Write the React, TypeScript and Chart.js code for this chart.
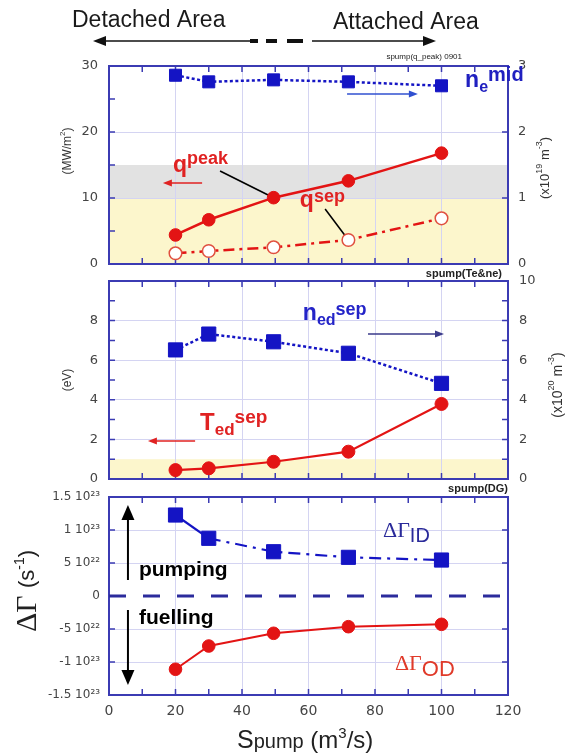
import { useEffect, useRef } from "react";
import { Chart, registerables } from "chart.js";

Chart.register(...registerables);

// ---------------- data ----------------
const pumpSpeed = [20, 30, 49.5, 72, 100];
const neMid = [2.86, 2.76, 2.79, 2.76, 2.7];
const qPeak = [4.4, 6.7, 10.05, 12.6, 16.8];
const qSep = [1.62, 1.97, 2.53, 3.64, 6.92];
const nedSep = [6.52, 7.32, 6.93, 6.35, 4.83];
const tedSep = [0.45, 0.54, 0.87, 1.38, 3.79];
const dGammaID = [1.227e23, 0.874e23, 0.671e23, 0.586e23, 0.545e23];
const dGammaOD = [-1.11e23, -0.758e23, -0.565e23, -0.465e23, -0.429e23];

const xTickLabels = ["0", "20", "40", "60", "80", "100", "120"];
const heatTickLabels = ["0", "10", "20", "30"];
const neTickLabels = ["0", "1", "2", "3"];
const tempTickLabels = ["0", "2", "4", "6", "8", ""];
const nedTickLabels = ["0", "2", "4", "6", "8", "10"];
const gammaTickLabels = ["-1.5 10²³", "-1 10²³", "-5 10²²", "0", "5 10²²", "1 10²³", "1.5 10²³"];

// ---------------- style ----------------
const W = 571;
const H = 756;
const LEFT_W = 109;
const RIGHT_W = 63;
const P1 = { top: 66, bottom: 264 };
const P2 = { top: 281, bottom: 479 };
const P3 = { top: 497, bottom: 695 };
const SANS = "'Liberation Sans', Arial, sans-serif";
const DEJA = "'DejaVu Sans', sans-serif";
const SERIF = "'Liberation Serif', 'Times New Roman', serif";
const FRAME = "#3b3bb3";
const GRID = "#d4d4f2";
const TICK = "#444444";
const RED = "#e31414";
const RED_TXT = "#e02222";
const BLUE = "#1414c4";
const NAVY = "#2a2a9a";
const YELLOW = "#fcf6cc";
const GRAYBAND = "#e2e2e2";

type Part = { t: string; f: string; dy?: number; c?: string };

function rich(ctx: CanvasRenderingContext2D, parts: Part[], x: number, y: number, o: { align?: string; rot?: number; color?: string; baseline?: CanvasTextBaseline } = {}) {
  ctx.save();
  ctx.translate(x, y);
  if (o.rot) ctx.rotate(o.rot);
  let total = 0;
  const widths = parts.map((p) => {
    ctx.font = p.f;
    const w = ctx.measureText(p.t).width;
    total += w;
    return w;
  });
  let cx = o.align === "center" ? -total / 2 : o.align === "right" ? -total : 0;
  ctx.textBaseline = o.baseline || "alphabetic";
  ctx.textAlign = "left";
  parts.forEach((p, i) => {
    ctx.font = p.f;
    ctx.fillStyle = p.c || o.color || "#000";
    ctx.fillText(p.t, cx, p.dy || 0);
    cx += widths[i];
  });
  ctx.restore();
}

function arrow(ctx: CanvasRenderingContext2D, x1: number, y1: number, x2: number, y2: number, color: string, lw: number, hl: number, hw: number) {
  const a = Math.atan2(y2 - y1, x2 - x1);
  const c = Math.cos(a), s = Math.sin(a);
  ctx.save();
  ctx.strokeStyle = color;
  ctx.fillStyle = color;
  ctx.lineWidth = lw;
  ctx.beginPath();
  ctx.moveTo(x1, y1);
  ctx.lineTo(x2 - c * hl * 0.8, y2 - s * hl * 0.8);
  ctx.stroke();
  ctx.beginPath();
  ctx.moveTo(x2, y2);
  ctx.lineTo(x2 - hl * c + hw * s, y2 - hl * s - hw * c);
  ctx.lineTo(x2 - hl * c - hw * s, y2 - hl * s + hw * c);
  ctx.closePath();
  ctx.fill();
  ctx.restore();
}

function seg(ctx: CanvasRenderingContext2D, x1: number, y1: number, x2: number, y2: number, color: string, lw: number) {
  ctx.save();
  ctx.strokeStyle = color;
  ctx.lineWidth = lw;
  ctx.beginPath();
  ctx.moveTo(x1, y1);
  ctx.lineTo(x2, y2);
  ctx.stroke();
  ctx.restore();
}

function frameAndTicks(chart: any, leftId: string, leftVals: number[], rightId: string, rightVals: number[]) {
  const { ctx, chartArea: a } = chart;
  const L = 6;
  ctx.save();
  ctx.strokeStyle = FRAME;
  ctx.lineWidth = 1.5;
  ctx.beginPath();
  const xs = chart.scales.x;
  for (let v = 10; v < 120; v += 10) {
    const p = xs.getPixelForValue(v);
    ctx.moveTo(p, a.top);
    ctx.lineTo(p, a.top + L);
    ctx.moveTo(p, a.bottom);
    ctx.lineTo(p, a.bottom - L);
  }
  leftVals.forEach((v) => {
    const p = chart.scales[leftId].getPixelForValue(v);
    ctx.moveTo(a.left, p);
    ctx.lineTo(a.left + L, p);
  });
  rightVals.forEach((v) => {
    const p = chart.scales[rightId].getPixelForValue(v);
    ctx.moveTo(a.right, p);
    ctx.lineTo(a.right - L, p);
  });
  ctx.stroke();
  ctx.lineWidth = 2;
  ctx.strokeRect(a.left, a.top, a.right - a.left, a.bottom - a.top);
  ctx.restore();
}

const edgeHidden = (min: number, max: number, hideZero = false) => (c: any) => {
  const v = c.tick ? c.tick.value : NaN;
  const eps = Math.abs(max - min) * 1e-6;
  if (Math.abs(v - min) < eps || Math.abs(v - max) < eps || (hideZero && Math.abs(v) < eps)) return "rgba(0,0,0,0)";
  return GRID;
};

const pts = (ys: number[]) => ys.map((y, i) => ({ x: pumpSpeed[i], y }));

function xAxis(show: boolean) {
  return {
    type: "linear",
    position: "bottom",
    min: 0,
    max: 120,
    ticks: {
      display: show,
      stepSize: 20,
      padding: 8,
      color: TICK,
      font: { family: DEJA, size: 14 },
      callback: (v: number) => xTickLabels[Math.round(v / 20)] ?? "",
    },
    grid: { color: edgeHidden(0, 120), lineWidth: 1, drawTicks: false },
    border: { display: false },
    afterFit: (s: any) => {
      s.height = show ? 30 : 0;
    },
  };
}

function yAxis(o: { min: number; max: number; step: number; labels: string[]; position: string; width: number; grid: boolean; font: any; padding: number; hideZero?: boolean }) {
  return {
    type: "linear",
    position: o.position,
    min: o.min,
    max: o.max,
    ticks: {
      stepSize: o.step,
      padding: o.padding,
      color: TICK,
      font: o.font,
      autoSkip: false,
      callback: (v: number) => o.labels[Math.round((v - o.min) / o.step)] ?? "",
    },
    grid: o.grid
      ? { color: edgeHidden(o.min, o.max, o.hideZero), lineWidth: 1, drawTicks: false }
      : { drawOnChartArea: false, drawTicks: false },
    border: { display: false },
    afterFit: (s: any) => {
      s.width = o.width;
    },
  };
}

function ds(data: number[], yAxisID: string, o: any) {
  return {
    data: pts(data),
    yAxisID,
    borderColor: o.color,
    backgroundColor: o.fill,
    borderWidth: o.lw,
    borderDash: o.dash || [],
    segment: o.segment,
    pointStyle: o.shape,
    pointRadius: o.r,
    pointBackgroundColor: o.fill,
    pointBorderColor: o.pointBorder || o.color,
    pointBorderWidth: o.pbw ?? 1,
    tension: 0,
    fill: false,
  };
}

function base(padTop: number, padBottom: number, padRight: number) {
  return {
    responsive: false,
    maintainAspectRatio: false,
    animation: false,
    devicePixelRatio: 1,
    events: [],
    layout: { padding: { top: padTop, bottom: padBottom, left: 0, right: padRight } },
    plugins: { legend: { display: false }, tooltip: { enabled: false } },
  };
}

function band(chart: any, axis: string, from: number, to: number, color: string) {
  const { ctx, chartArea: a } = chart;
  const s = chart.scales[axis];
  const y1 = s.getPixelForValue(to);
  const y0 = s.getPixelForValue(from);
  ctx.save();
  ctx.fillStyle = color;
  ctx.fillRect(a.left, y1, a.right - a.left, y0 - y1);
  ctx.restore();
}

// ---------------- panel 1 ----------------
function config1(): any {
  const plugin = {
    id: "panel1",
    beforeDraw(chart: any) {
      band(chart, "y", 0, 10, YELLOW);
      band(chart, "y", 10, 15, GRAYBAND);
    },
    beforeDatasetsDraw(chart: any) {
      const { ctx } = chart;
      frameAndTicks(chart, "y", [5, 10, 15, 20, 25], "y2", [1, 2]);
      const X = (v: number) => chart.scales.x.getPixelForValue(v);
      const Y = (v: number) => chart.scales.y.getPixelForValue(v);
      seg(ctx, X(33.4), Y(14.1), X(pumpSpeed[2]), Y(qPeak[2]), "#000", 1.6);
      seg(ctx, X(65.0), Y(8.33), X(pumpSpeed[3]), Y(qSep[3]), "#000", 1.6);
    },
    afterDatasetsDraw(chart: any) {
      const { ctx } = chart;
      const X = (v: number) => chart.scales.x.getPixelForValue(v);
      const Y = (v: number) => chart.scales.y.getPixelForValue(v);
      rich(ctx, [
        { t: "q", f: `bold 23px ${SANS}` },
        { t: "peak", f: `bold 18px ${SANS}`, dy: -8 },
      ], X(19.25), Y(14.0), { color: RED_TXT });
      arrow(ctx, X(28.0), Y(12.27), X(16.2), Y(12.27), RED_TXT, 1.5, 9, 3.5);
      rich(ctx, [
        { t: "q", f: `bold 23px ${SANS}` },
        { t: "sep", f: `bold 18px ${SANS}`, dy: -5 },
      ], X(57.4), Y(8.64), { color: RED_TXT });
      rich(ctx, [
        { t: "n", f: `bold 23px ${SANS}` },
        { t: "e", f: `bold 16px ${SANS}`, dy: 5 },
        { t: "mid", f: `bold 20px ${SANS}`, dy: -6 },
      ], X(107.1), Y(26.8), { color: "#2020c0" });
      arrow(ctx, X(71.6), Y(25.76), X(92.9), Y(25.76), "#3050d0", 1.5, 9, 3.5);
    },
    afterDraw(chart: any) {
      const { ctx } = chart;
      // header
      ctx.save();
      ctx.fillStyle = "#1a1a1a";
      ctx.font = `23px ${SANS}`;
      ctx.textBaseline = "alphabetic";
      ctx.fillText("Detached Area", 72, 27);
      ctx.fillText("Attached Area", 333, 29);
      ctx.restore();
      arrow(ctx, 251, 41, 93, 41, "#111", 1.6, 13, 5);
      arrow(ctx, 312, 41, 436, 41, "#111", 1.6, 13, 5);
      ctx.save();
      ctx.strokeStyle = "#111";
      ctx.lineWidth = 4;
      ctx.beginPath();
      ctx.moveTo(250, 41); ctx.lineTo(258, 41);
      ctx.moveTo(266, 41); ctx.lineTo(277, 41);
      ctx.moveTo(287, 41); ctx.lineTo(303, 41);
      ctx.stroke();
      ctx.fillStyle = "#222";
      ctx.font = `8px ${SANS}`;
      ctx.textAlign = "right";
      ctx.fillText("spump(q_peak) 0901", 462, 59);
      ctx.restore();
      // axis titles
      rich(ctx, [
        { t: "(MW/m", f: `12px ${SANS}` },
        { t: "2", f: `8px ${SANS}`, dy: -5 },
        { t: ")", f: `12px ${SANS}` },
      ], 67.5, 151, { align: "center", rot: -Math.PI / 2, color: "#333", baseline: "middle" });
      rich(ctx, [
        { t: "(x10", f: `13px ${SANS}` },
        { t: "19", f: `9px ${SANS}`, dy: -5 },
        { t: " m", f: `13px ${SANS}` },
        { t: "-3", f: `9px ${SANS}`, dy: -5 },
        { t: ")", f: `13px ${SANS}` },
      ], 545, 168, { align: "center", rot: -Math.PI / 2, color: "#333", baseline: "middle" });
    },
  };
  return {
    type: "line",
    data: {
      datasets: [
        ds(neMid, "y2", { color: BLUE, fill: BLUE, lw: 2.5, dash: [3, 2.5], shape: "rect", r: 8.5 }),
        ds(qPeak, "y", { color: RED, fill: RED, lw: 2.5, shape: "circle", r: 6.3 }),
        ds(qSep, "y", { color: RED, fill: "#ffffff", pointBorder: "#e05040", pbw: 1.5, lw: 2.5, dash: [11, 5, 3, 5], shape: "circle", r: 6.3 }),
      ],
    },
    options: {
      ...base(P1.top, H - P1.bottom, 0),
      scales: {
        x: xAxis(false),
        y: yAxis({ min: 0, max: 30, step: 10, labels: heatTickLabels, position: "left", width: LEFT_W, grid: true, font: { family: DEJA, size: 13 }, padding: 11 }),
        y2: yAxis({ min: 0, max: 3, step: 1, labels: neTickLabels, position: "right", width: RIGHT_W, grid: false, font: { family: DEJA, size: 13 }, padding: 10 }),
      },
    },
    plugins: [plugin],
  };
}

// ---------------- panel 2 ----------------
function config2(): any {
  const plugin = {
    id: "panel2",
    beforeDraw(chart: any) {
      band(chart, "y", 0, 1, YELLOW);
    },
    beforeDatasetsDraw(chart: any) {
      frameAndTicks(chart, "y", [1, 2, 3, 4, 5, 6, 7, 8, 9], "y2", [1, 2, 3, 4, 5, 6, 7, 8, 9]);
    },
    afterDatasetsDraw(chart: any) {
      const { ctx } = chart;
      const X = (v: number) => chart.scales.x.getPixelForValue(v);
      const Y = (v: number) => chart.scales.y.getPixelForValue(v);
      rich(ctx, [
        { t: "n", f: `bold 23px ${SANS}` },
        { t: "ed", f: `bold 16px ${SANS}`, dy: 5 },
        { t: "sep", f: `bold 18px ${SANS}`, dy: -5 },
      ], X(58.3), Y(8.03), { color: "#2424c8" });
      arrow(ctx, X(77.9), Y(7.32), X(100.75), Y(7.32), "#3a3a8a", 1.5, 9, 3.5);
      rich(ctx, [
        { t: "T", f: `bold 24px ${SANS}` },
        { t: "ed", f: `bold 17px ${SANS}`, dy: 5 },
        { t: "sep", f: `bold 19px ${SANS}`, dy: -7 },
      ], X(27.4), Y(2.47), { color: RED_TXT });
      arrow(ctx, X(25.9), Y(1.92), X(11.7), Y(1.92), RED_TXT, 1.5, 9, 3.5);
    },
    afterDraw(chart: any) {
      const { ctx, chartArea: a } = chart;
      ctx.save();
      ctx.fillStyle = "#222";
      ctx.font = `bold 11px ${SANS}`;
      ctx.textAlign = "right";
      ctx.fillText("spump(Te&ne)", a.right - 6, a.top - 4);
      ctx.restore();
      rich(ctx, [{ t: "(eV)", f: `12px ${SANS}` }], 68, 380, { align: "center", rot: -Math.PI / 2, color: "#333", baseline: "middle" });
      rich(ctx, [
        { t: "(x10", f: `14px ${SANS}` },
        { t: "20", f: `9px ${SANS}`, dy: -6 },
        { t: " m", f: `14px ${SANS}` },
        { t: "-3", f: `9px ${SANS}`, dy: -6 },
        { t: ")", f: `14px ${SANS}` },
      ], 558, 385, { align: "center", rot: -Math.PI / 2, color: "#333", baseline: "middle" });
    },
  };
  return {
    type: "line",
    data: {
      datasets: [
        ds(nedSep, "y2", { color: BLUE, fill: BLUE, lw: 2.5, dash: [3, 2.5], shape: "rect", r: 10 }),
        ds(tedSep, "y", { color: RED, fill: RED, lw: 2.2, shape: "circle", r: 6.5 }),
      ],
    },
    options: {
      ...base(P2.top, H - P2.bottom, 0),
      scales: {
        x: xAxis(false),
        y: yAxis({ min: 0, max: 10, step: 2, labels: tempTickLabels, position: "left", width: LEFT_W, grid: true, font: { family: DEJA, size: 13 }, padding: 11 }),
        y2: yAxis({ min: 0, max: 10, step: 2, labels: nedTickLabels, position: "right", width: RIGHT_W, grid: false, font: { family: DEJA, size: 13 }, padding: 11 }),
      },
    },
    plugins: [plugin],
  };
}

// ---------------- panel 3 ----------------
function config3(): any {
  const plugin = {
    id: "panel3",
    beforeDatasetsDraw(chart: any) {
      const { ctx, chartArea: a } = chart;
      frameAndTicks(chart, "y", [-1e23, -5e22, 5e22, 1e23], "y", [-1e23, -5e22, 5e22, 1e23]);
      const y0 = chart.scales.y.getPixelForValue(0);
      ctx.save();
      ctx.strokeStyle = "#2b2b9c";
      ctx.lineWidth = 3;
      ctx.setLineDash([17, 17]);
      ctx.beginPath();
      ctx.moveTo(a.left, y0);
      ctx.lineTo(a.right, y0);
      ctx.stroke();
      ctx.restore();
    },
    afterDatasetsDraw(chart: any) {
      const { ctx } = chart;
      const X = (v: number) => chart.scales.x.getPixelForValue(v);
      const Y = (v: number) => chart.scales.y.getPixelForValue(v);
      arrow(ctx, X(5.7), Y(0.242e23), X(5.7), Y(1.379e23), "#000", 2, 15, 6.5);
      arrow(ctx, X(5.7), Y(-0.212e23), X(5.7), Y(-1.348e23), "#000", 2, 15, 6.5);
      rich(ctx, [{ t: "pumping", f: `bold 21px ${SANS}` }], X(9.0), Y(0.303e23), { color: "#000" });
      rich(ctx, [{ t: "fuelling", f: `bold 21px ${SANS}` }], X(9.0), Y(-0.424e23), { color: "#000" });
      rich(ctx, [
        { t: "ΔΓ", f: `22px ${SERIF}` },
        { t: "ID", f: `20px ${SANS}`, dy: 5 },
      ], X(82.4), Y(0.894e23), { color: NAVY });
      rich(ctx, [
        { t: "ΔΓ", f: `22px ${SERIF}` },
        { t: "OD", f: `22px ${SANS}`, dy: 6 },
      ], X(86.0), Y(-1.12e23), { color: "#e03a2a" });
    },
    afterDraw(chart: any) {
      const { ctx, chartArea: a } = chart;
      ctx.save();
      ctx.fillStyle = "#222";
      ctx.font = `bold 11px ${SANS}`;
      ctx.textAlign = "right";
      ctx.fillText("spump(DG)", a.right, a.top - 5);
      ctx.restore();
      rich(ctx, [
        { t: "ΔΓ ", f: `30px ${SERIF}` },
        { t: "(s", f: `22px ${SANS}` },
        { t: "-1", f: `14px ${SANS}`, dy: -8 },
        { t: ")", f: `22px ${SANS}` },
      ], 28, 591, { align: "center", rot: -Math.PI / 2, color: "#222", baseline: "middle" });
      rich(ctx, [
        { t: "S", f: `25px ${SANS}` },
        { t: "pump", f: `20px ${SANS}` },
        { t: " (m", f: `24px ${SANS}` },
        { t: "3", f: `15px ${SANS}`, dy: -10 },
        { t: "/s)", f: `24px ${SANS}` },
      ], 237, 748, { color: "#222" });
    },
  };
  return {
    type: "line",
    data: {
      datasets: [
        ds(dGammaID, "y", {
          color: BLUE, fill: BLUE, lw: 2.2, shape: "rect", r: 10,
          segment: { borderDash: (c: any) => (c.p0DataIndex === 0 ? [] : [12, 6, 3, 6]) },
        }),
        ds(dGammaOD, "y", { color: RED, fill: RED, lw: 2, shape: "circle", r: 6.3 }),
      ],
    },
    options: {
      ...base(P3.top, H - P3.bottom - 30, RIGHT_W),
      scales: {
        x: xAxis(true),
        y: yAxis({ min: -1.5e23, max: 1.5e23, step: 5e22, labels: gammaTickLabels, position: "left", width: LEFT_W, grid: true, font: { family: DEJA, size: 12 }, padding: 9, hideZero: true }),
      },
    },
    plugins: [plugin],
  };
}

export default function App() {
  const r1 = useRef<HTMLCanvasElement>(null);
  const r2 = useRef<HTMLCanvasElement>(null);
  const r3 = useRef<HTMLCanvasElement>(null);
  useEffect(() => {
    const charts = [
      new Chart(r1.current as HTMLCanvasElement, config1()),
      new Chart(r2.current as HTMLCanvasElement, config2()),
      new Chart(r3.current as HTMLCanvasElement, config3()),
    ];
    return () => charts.forEach((c) => c.destroy());
  }, []);
  const cs: any = { position: "absolute", left: 0, top: 0, width: W, height: H };
  return (
    <div style={{ position: "absolute", left: 0, top: 0, width: W, height: H, background: "#ffffff", overflow: "hidden" }}>
      <canvas ref={r1} width={W} height={H} style={cs} />
      <canvas ref={r2} width={W} height={H} style={cs} />
      <canvas ref={r3} width={W} height={H} style={cs} />
    </div>
  );
}
